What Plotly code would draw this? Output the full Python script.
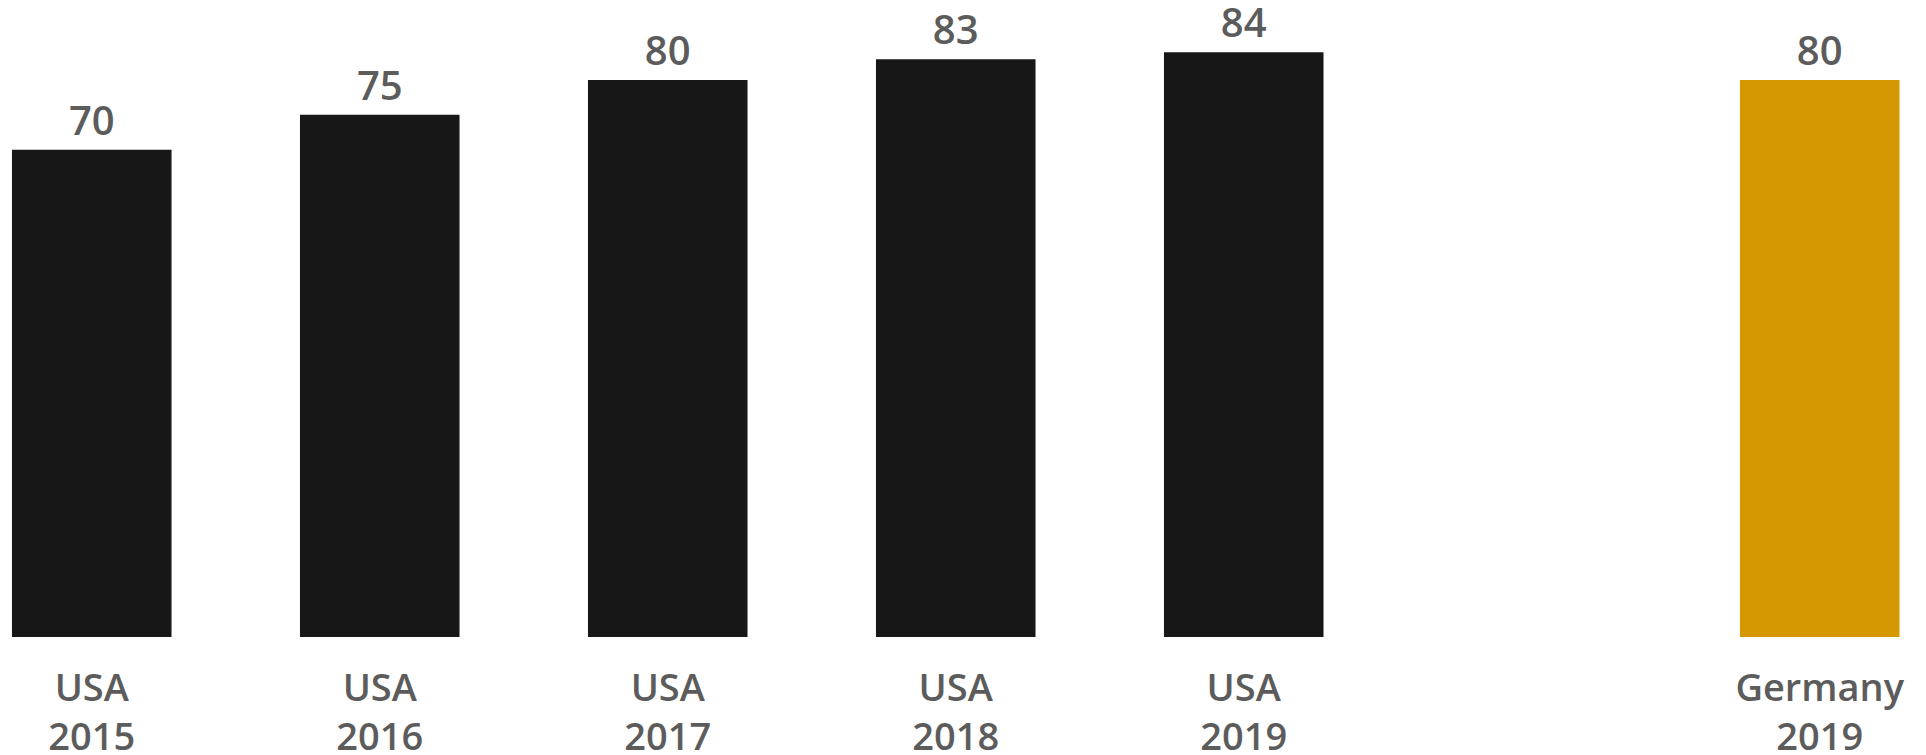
import plotly.graph_objects as go

categories = ["USA<br>2015", "USA<br>2016", "USA<br>2017", "USA<br>2018", "USA<br>2019", " ", "Germany<br>2019"]
values = [70, 75, 80, 83, 84, None, 80]
colors = ["#171717", "#171717", "#171717", "#171717", "#171717", "#171717", "#d59800"]
value_labels = ["70", "75", "80", "83", "84", "", "80"]

FONT = "Open Sans"
GREY = "#5c5c5c"

fig = go.Figure(go.Bar(
    x=categories,
    y=values,
    marker=dict(color=colors, line=dict(width=0)),
    text=value_labels,
    textposition="outside",
    textfont=dict(family=FONT, size=40, color=GREY, weight=600),
    cliponaxis=False,
    hoverinfo="skip",
))

fig.update_layout(
    width=1926, height=755,
    margin=dict(l=0, r=0, t=0, b=118),
    paper_bgcolor="white", plot_bgcolor="white",
    bargap=0.446,
    showlegend=False,
    xaxis=dict(
        type="category",
        categoryorder="array", categoryarray=categories,
        range=[-0.3186, 6.369],
        automargin=False,
        showgrid=False, zeroline=False, showline=False,
        ticks="outside", ticklen=17, tickcolor="rgba(0,0,0,0)",
        tickfont=dict(family=FONT, size=38, color=GREY, weight=600),
    ),
    yaxis=dict(
        range=[0, 91.5],
        visible=False,
        automargin=False,
    ),
)

fig.write_html("out.html")
